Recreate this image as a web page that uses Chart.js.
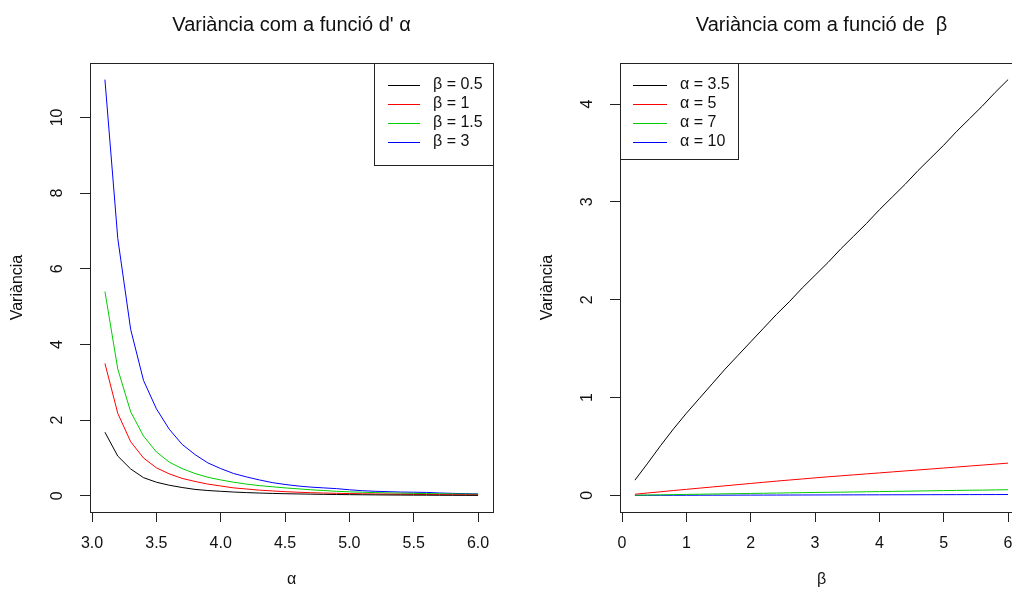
<!DOCTYPE html>
<html>
<head>
<meta charset="utf-8">
<script src="https://cdn.jsdelivr.net/npm/chart.js@4.4.0/dist/chart.umd.min.js"></script>
<style>
  html, body { margin: 0; padding: 0; width: 1012px; height: 591px; overflow: hidden; background: #fff; }
  .panel { position: absolute; top: 0; width: 506px; height: 591px; }
</style>
</head>
<body>
<div class="panel" style="left:0"><canvas id="leftChart" width="506" height="591"></canvas></div>
<div class="panel" style="left:530px"><canvas id="rightChart" width="506" height="591"></canvas></div>
<script>
// left panel: variance against alpha, one line per beta
const alphaVals = [3.1, 3.2, 3.3, 3.4, 3.5, 3.6, 3.7, 3.8, 3.9, 4.0, 4.1, 4.2, 4.3, 4.4, 4.5, 4.6, 4.7, 4.8, 4.9, 5.0, 5.1, 5.2, 5.3, 5.4, 5.5, 5.6, 5.7, 5.8, 5.9, 6.0];
const varBeta05 = [1.68, 1.05, 0.71, 0.48, 0.36, 0.28, 0.22, 0.17, 0.14, 0.12, 0.10, 0.085, 0.073, 0.064, 0.056, 0.05, 0.044, 0.039, 0.035, 0.031, 0.028, 0.025, 0.022, 0.02, 0.018, 0.017, 0.015, 0.014, 0.013, 0.012];
const varBeta1 = [3.50, 2.18, 1.43, 1.00, 0.74, 0.58, 0.46, 0.38, 0.31, 0.26, 0.21, 0.18, 0.15, 0.13, 0.11, 0.095, 0.083, 0.074, 0.066, 0.06, 0.054, 0.049, 0.045, 0.041, 0.037, 0.034, 0.031, 0.028, 0.026, 0.024];
const varBeta15 = [5.40, 3.35, 2.22, 1.58, 1.16, 0.89, 0.72, 0.59, 0.49, 0.42, 0.36, 0.31, 0.27, 0.24, 0.21, 0.185, 0.16, 0.14, 0.12, 0.105, 0.095, 0.085, 0.077, 0.07, 0.064, 0.059, 0.054, 0.05, 0.046, 0.043];
const varBeta3 = [11.0, 6.8, 4.4, 3.05, 2.3, 1.76, 1.36, 1.09, 0.87, 0.72, 0.59, 0.5, 0.42, 0.35, 0.3, 0.26, 0.23, 0.21, 0.19, 0.16, 0.135, 0.12, 0.11, 0.1, 0.095, 0.09, 0.075, 0.065, 0.058, 0.05];
const leftLabels = ['β = 0.5', 'β = 1', 'β = 1.5', 'β = 3'];
const leftXTicks = [3.0, 3.5, 4.0, 4.5, 5.0, 5.5, 6.0];
const leftYTicks = [0, 2, 4, 6, 8, 10];

// right panel: variance against beta, one line per alpha
const betaVals = [0.2, 0.4, 0.6, 0.8, 1.0, 1.2, 1.4, 1.6, 1.8, 2.0, 2.2, 2.4, 2.6, 2.8, 3.0, 3.2, 3.4, 3.6, 3.8, 4.0, 4.2, 4.4, 4.6, 4.8, 5.0, 5.2, 5.4, 5.6, 5.8, 6.0];
const varAlpha35 = [0.156, 0.33, 0.51, 0.68, 0.84, 0.99, 1.14, 1.29, 1.43, 1.57, 1.71, 1.85, 1.98, 2.12, 2.25, 2.38, 2.52, 2.65, 2.78, 2.92, 3.05, 3.18, 3.32, 3.45, 3.58, 3.72, 3.85, 3.98, 4.12, 4.25];
const varAlpha5 = [0.012, 0.025, 0.037, 0.05, 0.062, 0.074, 0.086, 0.098, 0.11, 0.122, 0.134, 0.146, 0.157, 0.168, 0.179, 0.19, 0.2, 0.21, 0.22, 0.23, 0.24, 0.25, 0.26, 0.27, 0.28, 0.29, 0.3, 0.31, 0.32, 0.33];
const varAlpha7 = [0.002, 0.004, 0.006, 0.008, 0.01, 0.012, 0.014, 0.016, 0.018, 0.02, 0.022, 0.024, 0.026, 0.028, 0.03, 0.032, 0.033, 0.035, 0.037, 0.039, 0.041, 0.043, 0.045, 0.047, 0.049, 0.051, 0.053, 0.054, 0.056, 0.058];
const varAlpha10 = [0.0003, 0.0006, 0.0009, 0.0012, 0.0015, 0.0018, 0.0021, 0.0024, 0.0027, 0.003, 0.0033, 0.0036, 0.0039, 0.0042, 0.0045, 0.0048, 0.0051, 0.0054, 0.0057, 0.006, 0.0063, 0.0066, 0.0069, 0.0072, 0.0075, 0.0078, 0.0081, 0.0084, 0.0087, 0.009];
const rightLabels = ['α = 3.5', 'α = 5', 'α = 7', 'α = 10'];
const rightXTicks = [0, 1, 2, 3, 4, 5, 6];
const rightYTicks = [0, 1, 2, 3, 4];

const lineColors = ['#000000', '#FF0000', '#00CD00', '#0000FF'];
const FONT = '"Liberation Sans", Arial, sans-serif';

// R pads the data range by 4% on each side
function rRange(arrays) {
  const all = [].concat(...arrays), lo = Math.min(...all), hi = Math.max(...all), d = (hi - lo) * 0.04;
  return [lo - d, hi + d];
}

// plot box, main title and legend, drawn like base R graphics
const rFrame = {
  id: 'rFrame',
  afterDraw(chart, args, opts) {
    const { ctx, chartArea: a } = chart;
    ctx.save();
    ctx.strokeStyle = '#222'; ctx.lineWidth = 1;
    ctx.strokeRect(Math.round(a.left) + 0.5, Math.round(a.top) + 0.5, Math.round(a.right - a.left), Math.round(a.bottom - a.top));
    ctx.fillStyle = '#111'; ctx.font = '20px ' + FONT; ctx.textAlign = 'center'; ctx.textBaseline = 'alphabetic';
    ctx.fillText(opts.title, (a.left + a.right) / 2, 30.5);
    const lg = opts.legend, x0 = Math.round(lg.side === 'right' ? a.right - lg.w : a.left), y0 = Math.round(a.top);
    ctx.fillStyle = '#fff'; ctx.fillRect(x0, y0, lg.w, lg.h);
    ctx.strokeStyle = '#222'; ctx.strokeRect(x0 + 0.5, y0 + 0.5, lg.w, lg.h);
    ctx.font = '16px ' + FONT; ctx.textAlign = 'left'; ctx.textBaseline = 'middle';
    chart.data.datasets.forEach((ds, i) => {
      const y = Math.round(y0 + 22 + i * 18.9);
      ctx.strokeStyle = ds.borderColor; ctx.beginPath();
      ctx.moveTo(x0 + lg.seg[0], y + 0.5); ctx.lineTo(x0 + lg.seg[1], y + 0.5); ctx.stroke();
      ctx.fillStyle = '#111'; ctx.fillText(ds.label, x0 + lg.text, y);
    });
    ctx.restore();
  }
};

function makeChart(id, xs, series, labels, xTicks, yTicks, xFmt, yPad, xTitle, title, legend) {
  const [xMin, xMax] = rRange([xs]), [yMin, yMax] = rRange(series);
  const tickFont = { family: FONT, size: 16 };
  return new Chart(document.getElementById(id).getContext('2d'), {
    type: 'line',
    data: { datasets: series.map((s, i) => ({ label: labels[i], data: xs.map((x, j) => ({ x: x, y: s[j] })), borderColor: lineColors[i], borderWidth: 1, pointRadius: 0, tension: 0, fill: false })) },
    options: {
      responsive: false, animation: false, events: [],
      layout: { padding: { left: 0, right: 13, top: 63, bottom: 0 } },
      plugins: { legend: { display: false }, tooltip: { enabled: false }, rFrame: { title: title, legend: legend } },
      scales: {
        x: {
          type: 'linear', min: xMin, max: xMax,
          afterBuildTicks: s => { s.ticks = xTicks.map(v => ({ value: v })); },
          afterFit: s => { s.height = 79; },
          grid: { drawOnChartArea: false, drawTicks: true, tickLength: 10, color: '#222' },
          border: { display: true, color: '#222' },
          ticks: { autoSkip: false, maxRotation: 0, padding: 12, color: '#111', font: tickFont, callback: xFmt },
          title: { display: true, text: xTitle, color: '#111', font: tickFont, padding: { top: 0, bottom: 2 } }
        },
        y: {
          type: 'linear', min: yMin, max: yMax,
          afterBuildTicks: s => { s.ticks = yTicks.map(v => ({ value: v })); },
          afterFit: s => { s.width = 90; },
          grid: { drawOnChartArea: false, drawTicks: true, tickLength: 10, color: '#222' },
          border: { display: true, color: '#222' },
          ticks: { autoSkip: false, minRotation: 90, maxRotation: 90, crossAlign: 'center', padding: yPad, color: '#111', font: tickFont, callback: v => String(v) },
          title: { display: true, text: 'Variància', color: '#111', font: tickFont, padding: { top: 8, bottom: 0 } }
        }
      }
    },
    plugins: [rFrame]
  });
}

makeChart('leftChart', alphaVals, [varBeta05, varBeta1, varBeta15, varBeta3], leftLabels, leftXTicks, leftYTicks,
  v => Number(v).toFixed(1), 14, 'α', "Variància com a funció d' α",
  { side: 'right', w: 119, h: 102, seg: [14, 46], text: 59 });

makeChart('rightChart', betaVals, [varAlpha35, varAlpha5, varAlpha7, varAlpha10], rightLabels, rightXTicks, rightYTicks,
  v => String(v), 18, 'β', 'Variància com a funció de  β',
  { side: 'left', w: 118, h: 96, seg: [13, 47], text: 60 });
</script>
</body>
</html>
